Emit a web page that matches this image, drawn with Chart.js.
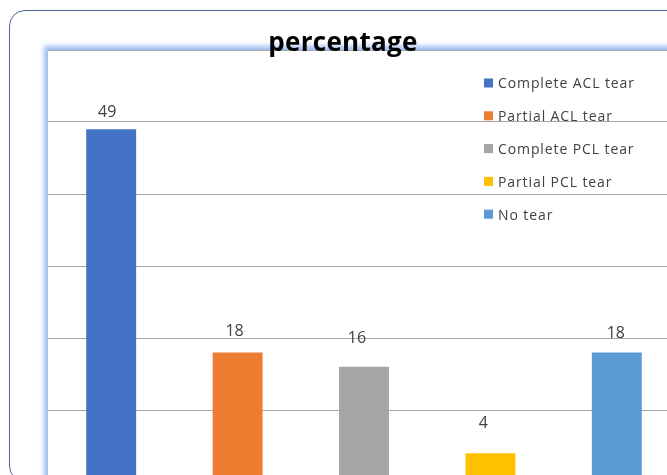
<!DOCTYPE html>
<html>
<head>
<meta charset="utf-8">
<script src="https://cdn.jsdelivr.net/npm/chart.js@4.4.0/dist/chart.umd.min.js"></script>
<style>
  html, body { margin: 0; padding: 0; background: #fff; overflow: hidden; width: 667px; height: 475px; }
  #frame { position: absolute; left: 9px; top: 10px; width: 720px; height: 470px; border: 1.5px solid #4a6796; border-radius: 16px; }
  #plotbg { position: absolute; left: 48px; top: 50px; width: 700px; height: 460px; background: #fff; box-shadow: 0 0 5px 4px #9dbcf3; }
  #wrap { position: absolute; left: 0; top: 0; width: 700px; height: 500px; }
</style>
</head>
<body>
<div id="frame"></div>
<div id="plotbg"></div>
<div id="wrap"><canvas id="barGraph1"></canvas></div>
<script>
var items = ['Complete ACL tear', 'Partial ACL tear', 'Complete PCL tear', 'Partial PCL tear', 'No tear'];
var numbers = [49, 18, 16, 4, 18];
var colors = ['#4472C4', '#ED7D31', '#A5A5A5', '#FFC000', '#5B9BD5'];
var yTicks = [0, 10, 20, 30, 40, 50, 60];

// hand-placed value labels: shift from the bar's top centre
var labelShiftX = [-4, -3, -7, -7, -1];
var labelShiftY = [18, 22, 30, 31, 20];

// title, value labels and the legend box are painted on top of the plot
var overlay = {
	id: 'overlay',
	afterDraw: function(chart) {
		var ctx = chart.ctx;
		ctx.save();

		ctx.fillStyle = '#000';
		ctx.font = 'bold 26px "Open Sans"';
		ctx.letterSpacing = '0.3px';
		ctx.textAlign = 'center';
		ctx.textBaseline = 'middle';
		ctx.fillText('percentage', 343, 44);

		ctx.letterSpacing = '0px';
		ctx.fillStyle = '#404040';
		ctx.font = '16px "Open Sans"';
		var meta = chart.getDatasetMeta(0);
		meta.data.forEach(function(bar, i) {
			ctx.fillText(numbers[i], bar.x + labelShiftX[i], bar.y - labelShiftY[i] + 1.5);
		});

		ctx.font = '14px "Open Sans"';
		ctx.letterSpacing = '0.9px';
		ctx.textAlign = 'left';
		for (var i = 0; i < items.length; i++) {
			var y = 83 + i * 32.8;
			ctx.fillStyle = colors[i];
			ctx.fillRect(484, y - 4.5, 9, 9);
			ctx.fillStyle = '#404040';
			ctx.fillText(items[i], 498, y + 1.5);
		}
		ctx.restore();
	}
};

var chartdata = {
	labels: items,
	datasets: [{
		label: 'percentage',
		backgroundColor: colors,
		borderWidth: 0,
		barPercentage: 0.79,
		categoryPercentage: 0.5,
		data: numbers
	}]
};

var ctx = document.getElementById('barGraph1');
var barGraph = new Chart(ctx, {
	type: 'bar',
	data: chartdata,
	plugins: [overlay],
	options: {
		responsive: true,
		maintainAspectRatio: false,
		animation: false,
		layout: { padding: { left: 48, top: 50, right: 20, bottom: 18 } },
		plugins: {
			legend: { display: false },
			title: { display: false },
			tooltip: { enabled: false }
		},
		scales: {
			x: {
				display: false,
				grid: { display: false }
			},
			y: {
				min: yTicks[0],
				max: yTicks[yTicks.length - 1],
				afterFit: function(s) { s.width = 0; },
				afterBuildTicks: function(s) { s.ticks = yTicks.map(function(v) { return { value: v }; }); },
				ticks: { display: false },
				border: { display: false },
				grid: { color: '#a6a6a6', lineWidth: 1, drawTicks: false }
			}
		}
	}
});
</script>
</body>
</html>
